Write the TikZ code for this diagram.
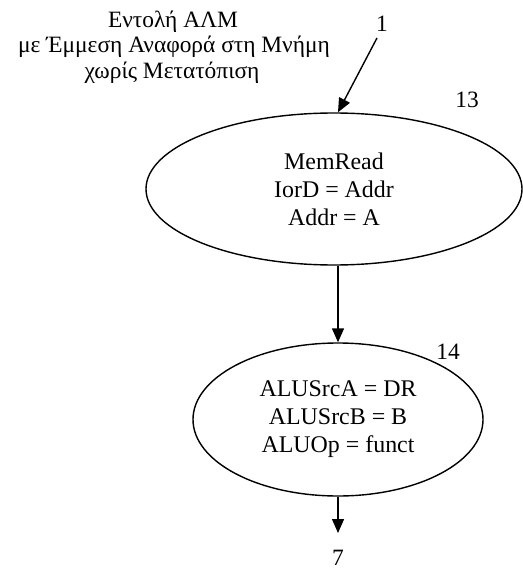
\documentclass[tikz,border=0pt]{standalone}
\usepackage{fontspec}
\setmainfont{Liberation Serif}
\usetikzlibrary{shapes.geometric,arrows.meta}
\tikzset{
  state/.style={ellipse,draw,line width=1.4bp,inner sep=0pt,align=center,
    font=\fontsize{24}{28.2}\selectfont},
  num/.style={inner sep=0pt,anchor=base,font=\fontsize{23.5}{26}\selectfont},
  ttl/.style={inner sep=0pt,anchor=base,font=\fontsize{23.5}{26}\selectfont},
  flow/.style={line width=1.4bp,-{Triangle[length=14bp,width=12bp]}}
}
\begin{document}
\begin{tikzpicture}[x=1bp,y=-1bp]
\useasboundingbox (0,0) rectangle (523,568);
\node[ttl] (title1) at (173,28) {Εντολή ΑΛΜ};
\node[ttl] (title2) at (174,53) {με Έμμεση Αναφορά στη Μνήμη};
\node[ttl] (title3) at (172,79) {χωρίς Μετατόπιση};
\node[state,minimum width=376bp,minimum height=152bp] (e1) at (334,189)
  {MemRead\\IorD = Addr\\Addr = A};
\node[state,minimum width=290bp,minimum height=153bp] (e2) at (338,419.5)
  {ALUSrcA = DR\\ALUSrcB = B\\ALUOp = funct};
\node[num] (n1) at (382,32) {1};
\node[num] (n13) at (467,108) {13};
\node[num] (n14) at (448,359) {14};
\node[num] (n7) at (338,565) {7};
\coordinate (s1) at (377,38);
\coordinate (t7) at (338,533);
\draw[flow] (s1) -- (e1.north -| e2.north);
\draw[flow] (e1.south -| e2.north) -- (e2.north);
\draw[flow] (e2.south) -- (t7);
\end{tikzpicture}
\end{document}
